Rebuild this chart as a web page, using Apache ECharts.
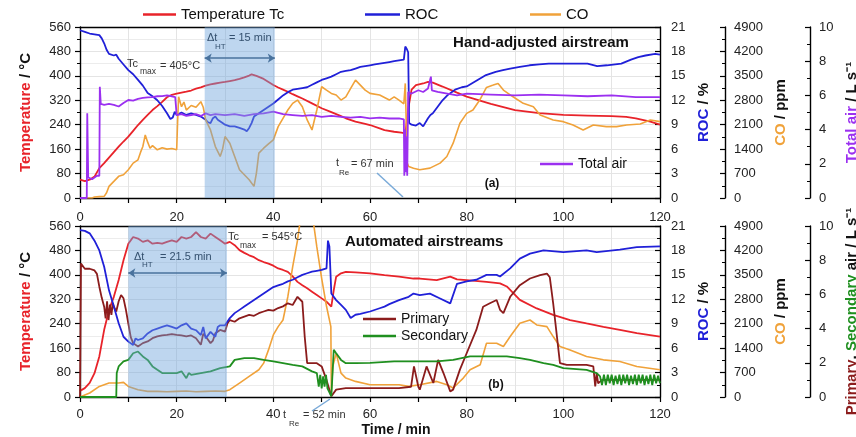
<!DOCTYPE html>
<html><head><meta charset="utf-8">
<script src="https://cdn.jsdelivr.net/npm/echarts@6/dist/echarts.min.js"></script>
<style>html,body{margin:0;padding:0;background:#fff}#c{width:856px;height:437px}</style>
</head><body><div id="c"></div><script>
// ---------- DATA (time in min, value on its own axis) ----------
const xTicks = [0, 20, 40, 60, 80, 100, 120];
// Panel (a): hand-adjusted airstream
const aTemp = [[0,60],[1,55],[2,60],[3,70],[4,98],[5,114],[6,132],[7,150],[8,168],[9,185],[10,201],[11,220],[12,239],[13,256],[14,272],[15,288],[16,301],[17,315],[18,330],[19,338],[20,342],[21,345],[22,348],[23,352],[24,358],[25,362],[26,368],[27,372],[28,375],[29,378],[30,380],[31,383],[32,386],[33,390],[34,395],[35,401],[35.5,405],[36.5,400],[38,390],[39,380],[40,370],[41,362],[42,355],[43,348],[44,340],[45,333],[46,326],[48,310],[50,294],[52,281],[54,268],[55,261],[57,250],[59,243],[60,239],[62,228],[63,222],[65,217],[66.5,214],[67.3,212],[68,300],[68.6,355],[69.5,370],[71,375],[72,380],[73,378],[75,365],[78,345],[80,332],[85,308],[90,288],[95,278],[100,272],[105,270],[110,268],[113,266],[115,261],[118,250],[120,240]];
const aRoc = [[0,20.6],[1,20.4],[2,20.2],[3,20.1],[4,20.0],[4.5,19.6],[5,19.0],[5.5,18.2],[6,17.7],[7,17.5],[7.5,17.6],[8,17.1],[9,16.4],[10,15.7],[11,15.2],[12,14.5],[13,13.8],[14,12.9],[15,12.5],[16,12.0],[17,11.3],[18,10.4],[18.7,9.7],[19.2,9.9],[19.6,10.6],[20,10.2],[21,10.5],[22,10.2],[23,10.4],[24,10.2],[25,10.0],[26,9.6],[26.5,9.3],[27,9.2],[27.5,9.8],[28,10.0],[28.5,9.6],[29.5,9.2],[30,9.0],[31,8.8],[32,8.8],[33,8.6],[34,8.4],[34.5,8.2],[35,8.6],[35.5,9.2],[36,10.0],[37,10.4],[38,10.8],[39,11.2],[40,11.6],[41,12.1],[42,12.6],[43,13.0],[44,13.3],[45,13.4],[46,13.5],[47,13.6],[48,13.9],[49,14.2],[50,14.5],[51,14.7],[52,14.9],[53,15.2],[54,15.5],[55,15.6],[56,15.7],[57,15.9],[58,16.1],[59,16.2],[60,16.3],[61,16.4],[62,16.5],[63,16.6],[64,16.7],[65,16.8],[66,16.9],[67,17.0],[67.3,18.6],[67.6,18.3],[67.9,17.9],[68.1,9.2],[68.6,9.0],[69.5,8.9],[70.3,9.2],[71,8.8],[72,9.8],[72.5,10.2],[73,10.4],[74,11.2],[75,12.0],[76,12.6],[77.6,13.3],[79,13.6],[80,13.7],[82,14.4],[84,15.1],[86,15.5],[87.5,15.7],[89,15.9],[91,16.1],[93,16.3],[95,16.4],[97,16.5],[100,16.5],[103,16.5],[105,16.5],[107,16.2],[109,16.3],[112,16.5],[114,17.0],[115.5,17.3],[117,17.5],[119,17.7],[120,17.6]];
const aCo = [[0,0],[2.5,0],[3,30],[4,40],[5,48],[5.5,150],[6,333],[7,475],[8,620],[9,666],[10,809],[11,1000],[12,1094],[12.5,1300],[13,1475],[13.5,1808],[14,1600],[14.5,1427],[15,1500],[16,1380],[17,1440],[18,1400],[19,1420],[20,1380],[20.2,2200],[20.4,2900],[21,2617],[21.5,2750],[22,2520],[23,2650],[24,2600],[25,2760],[25.5,2600],[26,2236],[27,1950],[28,1475],[29,1190],[29.5,1400],[30,1760],[31,1570],[32,1190],[33,809],[34,666],[35,523],[36,333],[36.5,713],[37,1285],[38,1427],[39,1550],[40,1665],[41,2045],[42,2284],[43,2521],[44,2712],[45,2807],[46,2617],[47,2236],[48,1950],[49,2521],[50,3188],[51,3092],[52,2997],[53,2950],[54,2807],[55,2900],[56,3140],[57,3378],[58,3235],[59,3092],[60,2997],[62,2950],[64,2807],[65,2900],[66,2807],[67,2700],[67.3,3283],[67.7,1000],[68,904],[69,850],[70.3,809],[72.4,856],[74.5,1000],[75.9,1190],[77.2,1570],[78.6,2141],[80,2426],[81.3,2521],[82.7,2807],[84.1,3168],[85.5,3235],[86.5,3283],[87.6,3092],[89.6,2900],[91.7,2712],[93.8,2617],[95.2,2379],[97.9,2236],[100,2188],[102,2093],[104.1,1950],[106.2,2093],[108.9,2045],[111,2045],[113.1,2093],[115.9,2120],[118,2236],[120,2188]];
const aAir = [[0,0],[1.4,0],[1.5,4.95],[1.7,1.2],[2.5,1.1],[3.5,1.3],[4.0,1.3],[4.1,6.5],[4.3,5.5],[5,5.45],[6,5.5],[7,5.45],[8,5.35],[9,5.55],[10,5.73],[11,5.7],[12,5.8],[13,5.85],[14,5.88],[15,5.9],[16,5.95],[17,5.96],[18,6.0],[19,5.95],[19.7,5.9],[20,4.85],[21,4.9],[22,4.8],[23,4.85],[24,4.9],[25,4.8],[26,4.95],[27,4.85],[28,4.9],[30,4.85],[32,4.9],[34,4.8],[36,4.9],[38,4.95],[40,5.05],[42,4.9],[44,4.85],[46,4.8],[48,4.85],[50,4.75],[52,4.8],[54,4.75],[56,4.7],[58,4.75],[60,4.66],[62,4.7],[64,4.65],[66,4.66],[67,4.6],[67.1,1.3],[67.25,4.0],[67.4,1.5],[67.55,3.6],[67.7,1.3],[67.9,6.2],[68.5,6.1],[70,6.3],[71,6.2],[72,6.4],[72.6,7.1],[72.8,6.3],[74,6.2],[76,6.1],[78,6.0],[80,6.1],[85,6.05],[90,6.0],[95,6.05],[100,6.0],[105,5.95],[110,6.0],[115,5.9],[120,5.9]];
// Panel (b): automated airstreams
const bTemp = [[0,20],[1,29],[2,46],[3,78],[4,133],[5,220],[5.5,252],[6,285],[7,328],[8,383],[9,448],[10,502],[11,524],[12,519],[13,508],[14,513],[15,502],[16,505],[17,502],[18,508],[19,513],[20,508],[21,524],[22,519],[23,524],[24,540],[25,524],[26,519],[27,535],[28,524],[29,513],[30,502],[31,508],[32,497],[33,481],[34,472],[35,464],[36,458],[37,448],[38,442],[39,437],[40,430],[41,421],[42,416],[43,410],[44,395],[45,377],[46,366],[47,356],[48,345],[49,334],[50,323],[51,312],[52,296],[52.5,350],[53,394],[54,405],[55,410],[57,408],[60,405],[63,399],[66,394],[69,388],[70.3,388],[73.8,383],[76.6,394],[78,385],[80,383],[84.1,377],[86.9,372],[88.3,362],[91,318],[94.5,290],[97.9,269],[101.4,252],[104.8,241],[108.3,230],[111.7,220],[115.2,209],[120,198]];
const bRoc = [[0,20.5],[1,20.4],[2,20.1],[3,19.2],[4,18.0],[5,16.0],[6,13.1],[7,11.1],[8,9.05],[9,7.4],[10,6.8],[11,6.4],[11.5,7.2],[12,7.0],[13,7.2],[14,7.8],[15,8.2],[16,8.4],[17,8.6],[18,8.8],[19,8.6],[20,8.4],[21,8.8],[22,9.05],[23,8.4],[24,8.2],[25,7.6],[25.5,8.6],[26,7.2],[27,8.0],[28,7.4],[28.5,8.6],[29,8.8],[30,8.8],[31,9.7],[32,10.3],[33,10.7],[34,11.1],[35,11.5],[36,11.9],[37,12.3],[38,12.7],[39,13.1],[40,13.5],[41,13.7],[42,13.9],[43,14.2],[44,14.4],[45,14.7],[46,15.0],[47,15.2],[48,15.4],[49,15.5],[50,15.6],[51,15.8],[51.3,19.2],[51.6,18.5],[52,12.7],[53,11.9],[54,11.3],[55,10.7],[56,9.7],[57,10.1],[58,10.2],[60,10.5],[62,10.9],[63,11.1],[64,11.4],[66,11.9],[68,12.3],[69,12.7],[70.3,12.5],[72.4,12.7],[74.5,12.1],[76.6,11.5],[78,13.9],[80,14.2],[82,14.4],[84.1,15.0],[86.2,15.0],[86.9,14.8],[89,15.8],[91,17.0],[93.1,17.6],[95.9,18.0],[100,17.8],[104.8,18.0],[106.9,17.8],[111.7,18.1],[115.2,18.4],[120,18.5]];
const bCo = [[0,0],[2,114],[4,304],[6,400],[8,400],[9,420],[10,304],[12,209],[14,162],[16,162],[18,150],[20,162],[22,170],[24,150],[26,162],[28,170],[30,162],[31,209],[33,400],[35,590],[37,780],[38,970],[39,1350],[40,1780],[41,2017],[42,2207],[43,2873],[44,3730],[45,4490],[45.8,5300],null,[48.0,5300],[49,4300],[50,3400],[51,2600],[51.9,2017],[52.0,150],[52.3,875],[53,1256],[54,685],[55,542],[57,447],[60,352],[63,352],[66,352],[68,304],[70.3,352],[73.8,447],[75.9,352],[77.2,257],[79.3,542],[80.7,780],[82.8,923],[84.1,1540],[86.2,1540],[87.6,1446],[89,1732],[91,2112],[93.1,2207],[94.5,2065],[96.6,2017],[97.9,1732],[99.3,1446],[101.4,1350],[104.8,1160],[108.3,1065],[111.7,1018],[115.2,875],[120,780]];
const bPrimary = [[0,0],[0.2,7.8],[0.5,7.7],[1,7.5],[2,7.5],[3,7.4],[3.5,7.2],[4,6.45],[4.5,5.8],[5,5.28],[5.3,4.6],[5.6,5.6],[5.9,4.5],[6.2,5.4],[6.5,4.8],[6.8,5.5],[7,5.28],[7.5,5.0],[8,5.6],[8.5,5.96],[9,5.77],[9.5,5.1],[10,4.3],[10.5,3.5],[11,3.15],[12,2.95],[13,3.15],[14,3.25],[15,3.44],[16,3.54],[17,3.6],[18,3.63],[19,3.68],[20,3.63],[21,3.6],[22,3.54],[23,3.6],[24,3.44],[25,3.05],[25.5,3.7],[26,3.54],[27,3.15],[27.5,3.3],[28,3.73],[29,3.92],[30,3.82],[30.5,4.3],[31,4.5],[32,4.4],[33,4.6],[34,4.7],[35,4.8],[36,4.75],[37,4.9],[38,5.0],[39,5.1],[40,5.05],[41,5.2],[42,5.3],[43,5.48],[44,5.38],[45,5.86],[46,5.57],[46.5,3.5],[47,1.98],[49,1.98],[50,1.79],[51,1.0],[52,0.04],[53,0.43],[55,0.52],[60,0.52],[66,0.52],[68.5,0.6],[69.1,1.79],[70,0.6],[70.3,0.43],[71.7,1.79],[73.1,0.82],[74.1,2.17],[75.2,1.4],[76.6,0.33],[77.2,0.43],[78.6,1.6],[80,2.56],[82,3.92],[83.4,5.28],[84.8,5.48],[86.2,5.67],[86.9,5.1],[87.6,4.9],[89,5.86],[91,6.54],[93.1,6.93],[95.2,7.13],[96.6,7.22],[97.2,7.0],[97.9,5.48],[99.3,1.98],[100.7,1.88],[104.8,1.88],[106.2,1.79],[106.6,0.62],[106.9,1.4],[107.2,0.8],[108,1.0],[120,1.0]];
const bSecondary = [[0,0],[7.5,0],[7.6,1.4],[8,1.79],[9,2.08],[10,2.17],[11,2.56],[12,2.66],[13,2.37],[14,2.17],[15,1.79],[16,1.59],[17,1.4],[18,1.4],[20,1.4],[21,1.5],[22,1.1],[22.5,1.4],[23,1.3],[25,1.4],[27,1.5],[29,1.69],[31,1.79],[32,2.17],[34,2.27],[36,2.27],[38,2.17],[40,2.08],[42,1.98],[44,1.88],[46,1.79],[48,1.5],[49,1.4],[49.4,0.6],[49.7,1.3],[50,0.5],[50.3,1.2],[50.6,0.6],[50.9,1.3],[51.2,0.5],[51.5,0.6],[52,0.04],[52.5,2.76],[53,2.56],[54,2.17],[55,1.98],[57,1.98],[60,2.0],[65,2.08],[69,2.08],[73.8,2.08],[77.2,2.17],[80.7,2.37],[84.1,2.37],[88.3,2.37],[91,2.27],[93.1,2.17],[95.9,1.98],[97.9,1.88],[100,1.69],[104.8,1.59],[106.9,1.4],[107.6,1.2],[108,0.7],[108.4,1.3],[108.8,0.7],[109.2,1.3],[109.6,0.8],[110,1.3],[110.4,0.7],[110.8,1.25],[111.2,0.75],[111.6,1.3],[112,0.7],[112.4,1.3],[112.8,0.8],[113.2,1.3],[113.6,0.7],[114,1.25],[114.4,0.75],[114.8,1.3],[115.2,0.7],[115.6,1.3],[116,0.8],[116.4,1.3],[116.8,0.7],[117.2,1.25],[117.6,0.75],[118,1.3],[118.4,0.7],[118.8,1.3],[119.2,0.8],[119.6,1.25],[120,0.8]];
// annotated intervals (min) and arrow heights (°C)
const aHeat = [25.8, 40.3];
const bHeat = [10.0, 30.4];
const aArrowT = 458, bArrowT = 406;

// ---------- CHART ----------
const C = {red:'#e8232a', blue:'#2020d8', orange:'#f0a23a', purple:'#9b30f0', prim:'#8b1c1c', sec:'#1f8f1f'};
const FONT = '"Liberation Sans", Arial, sans-serif';
const chart = echarts.init(document.getElementById('c'), null, {renderer:'canvas'});

const axisBlack = {lineStyle:{color:'#000', width:1.4}};
function xAx(grid, pos, labels, ticks, split){
  return {type:'value', gridIndex:grid, position:pos, min:0, max:120, interval:10,
    axisLine:{show:true, onZero:false, ...axisBlack},
    axisTick:{show:ticks, length:5, lineStyle:{color:'#000', width:1.2}},
    axisLabel:{show:labels, margin: pos==='top'?2:11, fontSize:13, color:'#222', fontFamily:FONT,
      formatter:v => xTicks.includes(v) ? String(v) : ''},
    splitLine:{show:split, lineStyle:{color:'#e4e4e4', width:1}}};
}
function yAx(grid, pos, offset, max, interval, name, rich, gap, split){
  return {type:'value', gridIndex:grid, position:pos, offset, min:0, max, interval,
    axisLine:{show:true, onZero:false, ...axisBlack},
    axisTick:{show:true, inside: pos==='right', length:5, lineStyle:{color:'#000', width:1.2}},
    minorTick:{show:true, splitNumber:2, length:3, lineStyle:{color:'#000', width:1}},
    axisLabel:{fontSize:13, color:'#222', fontFamily:FONT, margin: pos==='right' ? (offset===0?11:9) : 9,
      formatter:v => String(v)},
    splitLine:{show:split, lineStyle:{color:'#e4e4e4'}},
    minorSplitLine:{show:split, lineStyle:{color:'#ececec'}},
    name, nameLocation:'middle', nameGap:gap,
    nameTextStyle:{fontSize:15, fontWeight:'bold', color:'#111', fontFamily:FONT, rich}};
}
const NS = {fontSize:15, fontWeight:'bold', fontFamily:FONT};
const richT = {r:{color:C.red, ...NS}};
const richR = {b:{color:C.blue, ...NS}};
const richC = {o:{color:C.orange, ...NS}};
const richA = {p:{color:C.purple, ...NS}};
const richPS = {m:{color:C.prim, ...NS}, g:{color:C.sec, ...NS}};

function ln(name, data, color, xi, yi, z, w){
  return {name, type:'line', data, xAxisIndex:xi, yAxisIndex:yi, symbol:'none', showSymbol:false,
    lineStyle:{color, width:w||1.6}, itemStyle:{color}, z:z||2, clip:true, animation:false};
}

function txt(x, y, text, size, color, weight, align){
  return {type:'text', x, y, z:100, style:{text, fill:color||'#333', font:(weight||'normal')+' '+size+'px '+FONT,
    align:align||'left', verticalAlign:'middle'}};
}

const graphics = [
  txt(541,43,'Hand-adjusted airstream',15,'#111','bold','center'),
  txt(492,184,'(a)',12,'#111','bold','center'),
  txt(345,242,'Automated airstreams',15,'#111','bold','left'),
  txt(496,385,'(b)',12,'#111','bold','center'),
  txt(207,38,'\u0394t',11,'#34506e'), txt(215,47,'HT',8,'#34506e'), txt(229,38,'= 15 min',11,'#34506e'),
  txt(127,64,'Tc',11,'#333'), txt(140,72,'max',8.5,'#333'), txt(160,66,'= 405°C',11,'#333'),
  txt(336,163,'t',11,'#333'), txt(339,173,'Re',8,'#333'), txt(351,164,'= 67 min',11,'#333'),
  txt(228,237,'Tc',11,'#333'), txt(240,246,'max',8.5,'#333'), txt(262,237,'= 545°C',11,'#333'),
  txt(134,257,'\u0394t',11,'#34506e'), txt(142,265,'HT',8,'#34506e'), txt(160,257,'= 21.5 min',11,'#34506e'),
  txt(283,415,'t',11,'#333'), txt(289,424,'Re',8,'#333'), txt(303,415,'= 52 min',11,'#333'),
  {type:'line', z:100, shape:{x1:377,y1:173,x2:403,y2:197}, style:{stroke:'#7aaad8', lineWidth:1.5}},
  {type:'line', z:100, shape:{x1:312,y1:411,x2:330,y2:399}, style:{stroke:'#7aaad8', lineWidth:1.5}},
  txt(396,430,'Time / min',14,'#111','bold','center')
];

const LG = {padding:0, icon:'rect', itemWidth:33, itemHeight:2.5};
const option = {
  animation:false,
  backgroundColor:'#fff',
  textStyle:{fontFamily:FONT},
  grid:[{left:80, right:196, top:27, height:171, outerBoundsMode:'none', containLabel:false},
        {left:80, right:196, top:226, height:171, outerBoundsMode:'none', containLabel:false}],
  xAxis:[xAx(0,'bottom',false,true,true), xAx(0,'top',false,false,false), xAx(1,'top',true,false,false), xAx(1,'bottom',true,true,true)],
  yAxis:[
    yAx(0,'left',0,560,80,'{r|Temperature} / °C',richT,47,true),
    yAx(0,'right',0,21,3,'{b|ROC} / %',richR,33,false),
    yAx(0,'right',65,4900,700,'{o|CO} / ppm',richC,47,false),
    yAx(0,'right',150,10,2,'{p|Total air} / L s\u207B\u00B9',richA,33,false),
    yAx(1,'left',0,560,80,'{r|Temperature} / °C',richT,47,true),
    yAx(1,'right',0,21,3,'{b|ROC} / %',richR,33,false),
    yAx(1,'right',65,4900,700,'{o|CO} / ppm',richC,47,false),
    yAx(1,'right',150,10,2,'{m|Primary}, {g|Secondary} air / L s\u207B\u00B9',richPS,33,false)
  ],
  legend:[
    {...LG, data:['Temperature Tc'], left:143, top:7, textStyle:{fontSize:15, color:'#111'}},
    {...LG, data:['ROC'], left:365, top:7, itemWidth:35, textStyle:{fontSize:15, color:'#111'}},
    {...LG, data:['CO'], left:530, top:7, itemWidth:31, textStyle:{fontSize:15, color:'#111'}},
    {...LG, data:['Total air'], left:540, top:157, textStyle:{fontSize:14, color:'#111'}},
    {...LG, data:['Primary','Secondary'], orient:'vertical', left:363, top:312, itemGap:3, textStyle:{fontSize:14, color:'#111'}}
  ],
  series:[
    ln('Temperature Tc', aTemp, C.red, 0, 0, 2, 1.8),
    ln('ROC', aRoc, C.blue, 0, 1, 3, 1.8),
    ln('CO', aCo, C.orange, 0, 2, 4, 1.6),
    ln('Total air', aAir, C.purple, 0, 3, 5, 1.8),
    ln('Temperature Tc', bTemp, C.red, 3, 4, 2, 1.8),
    ln('CO', bCo, C.orange, 3, 6, 3, 1.6),
    ln('Primary', bPrimary, C.prim, 3, 7, 4, 1.8),
    ln('Secondary', bSecondary, C.sec, 3, 7, 5, 1.8),
    ln('ROC', bRoc, C.blue, 3, 5, 6, 1.8),
    {name:'arrowA', type:'line', data:[], xAxisIndex:0, yAxisIndex:0, z:11,
      markLine:{silent:true, symbol:['arrow','arrow'], symbolSize:7, label:{show:false},
        lineStyle:{color:'#2a4a6a', width:1.5, type:'solid'},
        data:[[{coord:[aHeat[0],aArrowT]},{coord:[aHeat[1],aArrowT]}]]}},
    {name:'arrowB', type:'line', data:[], xAxisIndex:3, yAxisIndex:4, z:11,
      markLine:{silent:true, symbol:['arrow','arrow'], symbolSize:7, label:{show:false},
        lineStyle:{color:'#2a4a6a', width:1.5, type:'solid'},
        data:[[{coord:[bHeat[0],bArrowT]},{coord:[bHeat[1],bArrowT]}]]}}
  ],
  graphic:graphics
};
chart.setOption(option);

// translucent shading of the heating intervals, placed through the axes' own scales, drawn over the lines
function shadeRect(xi, yi, span){
  const p0 = chart.convertToPixel({xAxisIndex:xi, yAxisIndex:yi}, [span[0], 560]);
  const p1 = chart.convertToPixel({xAxisIndex:xi, yAxisIndex:yi}, [span[1], 0]);
  return {type:'rect', z:50, silent:true, shape:{x:p0[0], y:p0[1], width:p1[0]-p0[0], height:p1[1]-p0[1]},
    style:{fill:'rgba(110,165,220,0.45)'}};
}
option.graphic = graphics.concat([shadeRect(0,0,aHeat), shadeRect(3,4,bHeat)]);
chart.setOption(option, true);
</script></body></html>
